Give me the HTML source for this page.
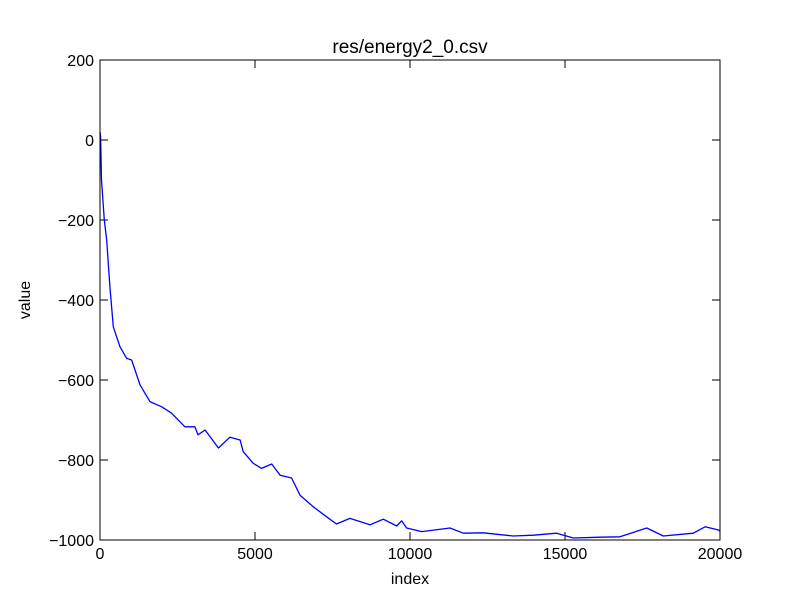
<!DOCTYPE html>
<html><head><meta charset="utf-8"><style>
body{margin:0;background:#fff;}
svg text{font-family:"Liberation Sans","DejaVu Sans",sans-serif;}
</style></head><body>
<svg id="chart" width="800" height="600">
<rect width="800" height="600" fill="#fff"/>
<g id="ticks"></g>
<polyline id="series" fill="none" stroke="#0000ff" stroke-width="1.3" stroke-linejoin="round"/>
<rect x="100" y="60" width="620" height="480" fill="none" stroke="#000" stroke-width="1"/>
<text x="410" y="53" font-size="19" text-anchor="middle">res/energy2_0.csv</text>
<text x="410" y="584" font-size="16" text-anchor="middle">index</text>
<text x="30" y="300" font-size="16" text-anchor="middle" transform="rotate(-90 30 300)">value</text>
</svg>
<script>
const idx=[0,20,50,140,215,320,430,645,860,1020,1290,1610,1990,2310,2740,3060,3160,3390,3820,4190,4520,4620,4940,5210,5540,5810,6180,6450,6880,7310,7630,8060,8710,9140,9570,9730,9890,10380,11290,11720,12360,13330,13980,14730,15270,16130,16770,17640,18170,19140,19520,19950,20000];
const vals=[20,8,-100,-200,-250,-367,-467,-517,-546,-550,-612,-654,-667,-683,-717,-717,-737,-725,-770,-743,-750,-779,-808,-821,-810,-838,-845,-888,-917,-942,-960,-946,-962,-948,-965,-952,-970,-979,-970,-983,-982,-990,-988,-983,-995,-993,-992,-970,-990,-983,-967,-975,-978];
const xTicks=[0,5000,10000,15000,20000];
const yTicks=[200,0,-200,-400,-600,-800,-1000];
const xs=v=>100+v/20000*620;
const ys=v=>60+(200-v)/1200*480;
const ns="http://www.w3.org/2000/svg";
const pl=document.getElementById('series');
pl.setAttribute('points',idx.map((d,i)=>xs(d).toFixed(1)+','+ys(vals[i]).toFixed(1)).join(' '));
const g=document.getElementById('ticks');
function mk(t,a){const e=document.createElementNS(ns,t);for(const k in a)e.setAttribute(k,a[k]);g.appendChild(e);return e;}
xTicks.forEach(t=>{const x=xs(t);
mk('line',{x1:x,x2:x,y1:540,y2:532,stroke:'#000'});
mk('line',{x1:x,x2:x,y1:60,y2:68,stroke:'#000'});
const tx=mk('text',{x:x,y:559,'font-size':16,'text-anchor':'middle'});tx.textContent=t;


});
yTicks.forEach(t=>{const y=ys(t);
mk('line',{x1:100,x2:108,y1:y,y2:y,stroke:'#000'});
mk('line',{x1:720,x2:712,y1:y,y2:y,stroke:'#000'});
const tx=mk('text',{x:94,y:y+6,'font-size':16,'text-anchor':'end'});tx.textContent=String(t).replace('-','\u2212');


});
</script>
</body></html>
